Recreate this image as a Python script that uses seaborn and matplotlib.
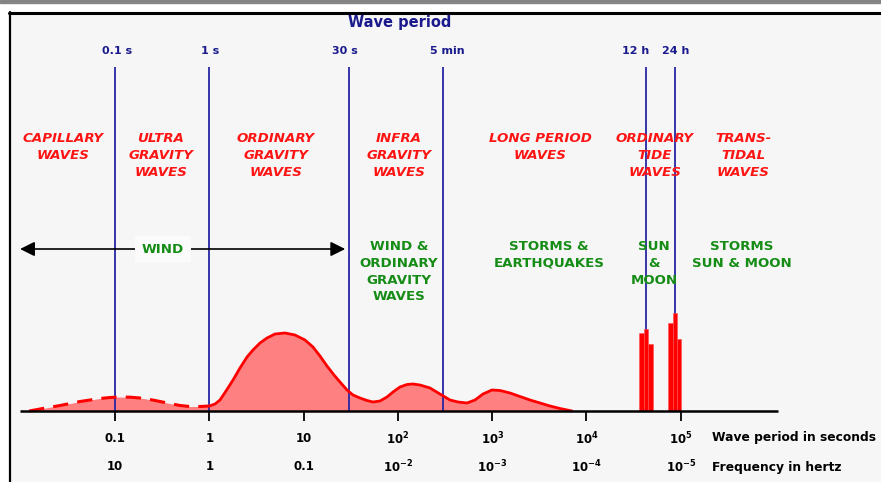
import numpy as np
import matplotlib
matplotlib.use("Agg")
import matplotlib.pyplot as plt
import seaborn as sns
from matplotlib.patches import Rectangle
from matplotlib.lines import Line2D

sns.set_style("white")
plt.rcParams["font.family"] = ["DejaVu Sans"]
plt.rcParams["mathtext.fontset"] = "dejavusans"
plt.rcParams["text.color"] = "black"

# --- data (period in seconds, relative energy) ---
capillary_period = [0.0122, 0.0159, 0.0203, 0.026, 0.0331, 0.0423, 0.054, 0.069, 0.088,
                    0.112, 0.144, 0.183, 0.234, 0.299, 0.381, 0.487, 0.621, 0.793, 1.0]
capillary_energy = [0, 2, 3.8, 5.5, 7.5, 9.5, 11, 12.5, 13.5,
                    14, 13.8, 13, 11.5, 9.5, 7.5, 5.5, 4.5, 4.5, 5]

gravity_period = [1.0, 1.144, 1.292, 1.496, 1.776, 2.107, 2.5, 2.894, 3.434, 4.075,
                  4.955, 6.325, 8.077, 10.31, 12.53, 14.87, 17.65, 20.94, 24.25, 28.77,
                  33.31, 39.53, 46.91, 54.29, 64.42, 76.44, 88.5, 105, 124.6, 144.3,
                  171.2, 218.6, 279, 356.2, 433.2, 539.6, 656.2, 797.9, 993.8, 1208,
                  1543, 1970, 2515, 3211, 4100, 5234, 7020]
gravity_energy = [5, 7, 11, 20, 31, 43, 54, 61, 68, 73,
                  77, 78, 76, 71, 64, 55, 45, 36, 29, 21,
                  16, 13, 10.5, 9, 10, 14, 19, 24, 26.5, 27,
                  26, 23, 17, 11, 9, 8, 11, 17, 21, 20.5,
                  18, 14.5, 11, 8, 5, 2.5, 0]

tide_period = [3.85e4, 4.29e4, 4.79e4, 7.8e4, 8.64e4, 9.6e4]
tide_energy = [78, 82, 67, 88, 98, 72]

boundary_period = [0.1, 1, 30, 300, 43200, 86400]
boundary_label = ["0.1 s", "1 s", "30 s", "5 min", "12 h", "24 h"]
boundary_label_px = [117, 210, 345, 447, 636, 676]

decades = [0.1, 1, 10, 1e2, 1e3, 1e4, 1e5]
period_ticks = ["0.1", "1", "10", "10^{2}", "10^{3}", "10^{4}", "10^{5}"]
freq_ticks = ["10", "1", "0.1", "10^{-2}", "10^{-3}", "10^{-4}", "10^{-5}"]

wave_names = [("CAPILLARY\nWAVES", 63), ("ULTRA\nGRAVITY\nWAVES", 161),
              ("ORDINARY\nGRAVITY\nWAVES", 276), ("INFRA\nGRAVITY\nWAVES", 399),
              ("LONG PERIOD\nWAVES", 540), ("ORDINARY\nTIDE\nWAVES", 655),
              ("TRANS-\nTIDAL\nWAVES", 743)]
forces = [("WIND &\nORDINARY\nGRAVITY\nWAVES", 399), ("STORMS &\nEARTHQUAKES", 549),
          ("SUN\n&\nMOON", 654), ("STORMS\nSUN & MOON", 742)]

RED = "#ff1414"
GREEN = "#158c15"
NAVY = "#1a1a8c"
LINE = "#2626a6"
W, H = 881, 482

fig = plt.figure(figsize=(W / 100, H / 100), dpi=100)
fig.patch.set_facecolor("white")
fig.patches.append(Rectangle((10 / W, 0), 1, 1 - 13 / H, transform=fig.transFigure,
                             color="#f6f6f6", zorder=-5))
fig.patches.append(Rectangle((0, 1 - 3 / H), 1, 3 / H, transform=fig.transFigure,
                             color="#858585", zorder=-4))
fig.lines.append(Line2D([9 / W, 1], [1 - 12.5 / H] * 2, transform=fig.transFigure,
                        color="black", lw=2.2))
fig.lines.append(Line2D([10 / W] * 2, [0, 1 - 12 / H], transform=fig.transFigure,
                        color="black", lw=1.6))

ax = fig.add_axes([0, 0, 1, 1])
ax.set_facecolor("none")
ax.set_xscale("log")
ax.set_xlim(10 ** -2.2228, 10 ** 7.1247)
ax.set_ylim(-71, 411)
ax.axis("off")

# filled spectrum
ax.fill_between(capillary_period, capillary_energy, color="#ff8080", lw=0, zorder=1)
ax.fill_between(gravity_period, gravity_energy, color="#ff8080", lw=0, zorder=1)

# period boundaries
ax.vlines(boundary_period, 0, 344, color=LINE, lw=1.3, zorder=2)
for px, lab in zip(boundary_label_px, boundary_label):
    fig.text(px / W, 1 - 51 / H, lab, color=NAVY, fontsize=8, fontweight="bold",
             ha="center", va="center")

sns.lineplot(x=capillary_period, y=capillary_energy, ax=ax, color="red", lw=2.2,
             linestyle=(0, (5, 3)), estimator=None, zorder=3)
sns.lineplot(x=gravity_period, y=gravity_energy, ax=ax, color="red", lw=2.0,
             estimator=None, zorder=3)

# tidal bars
d = 0.048
tp = np.array(tide_period)
left = tp * 10 ** (-d / 2)
ax.bar(left, tide_energy, width=tp * 10 ** (d / 2) - left, align="edge",
       color="red", edgecolor="#ff5050", lw=0.4, zorder=4)

# axis line and decade ticks
ax.hlines(0, 10 ** -2.011, 10 ** 6.032, color="black", lw=1.8, zorder=5)
ax.vlines(decades, -10, 0, color="black", lw=1.3, zorder=5)
for p, a, b in zip(decades, period_ticks, freq_ticks):
    ta = f"$\\mathbf{{{a}}}$" if "^" in a else a
    tb = f"$\\mathbf{{{b}}}$" if "^" in b else b
    ax.text(p, 411 - 439, ta, fontsize=8.5, fontweight="bold", ha="center", va="center")
    ax.text(p, 411 - 467, tb, fontsize=8.5, fontweight="bold", ha="center", va="center")
fig.text(712 / W, 1 - 437 / H, "Wave period in seconds", fontsize=8.8,
         fontweight="bold", va="center")
fig.text(712 / W, 1 - 467 / H, "Frequency in hertz", fontsize=8.8,
         fontweight="bold", va="center")

fig.text(400 / W, 1 - 23 / H, "Wave period", color=NAVY, fontsize=10.5,
         fontweight="bold", ha="center", va="center")

for name, x in wave_names:
    fig.text(x / W, 1 - 132 / H, name, color=RED, fontsize=9.6, fontweight="bold",
             style="italic", ha="center", va="top", linespacing=1.38)
for name, x in forces:
    fig.text(x / W, 1 - 240 / H, name, color=GREEN, fontsize=9.6, fontweight="bold",
             ha="center", va="top", linespacing=1.38)

# wind arrow
ax.annotate("", xy=(10 ** -2.01, 162), xytext=(10 ** 1.44, 162),
            arrowprops=dict(arrowstyle="<|-|>", color="black", lw=1.2,
                            mutation_scale=22, shrinkA=0, shrinkB=0), zorder=6)
fig.text(163 / W, 1 - 249 / H, "WIND", color=GREEN, fontsize=9.6, fontweight="bold",
         ha="center", va="center", zorder=7,
         bbox=dict(boxstyle="square,pad=0.5", fc="#fbfbfb", ec="none"))

fig.savefig("out.png", dpi=100)
